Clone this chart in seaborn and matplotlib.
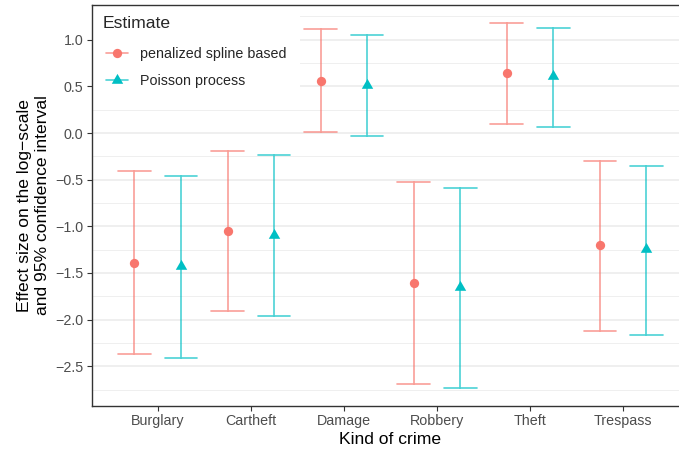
import numpy as np
import pandas as pd
import matplotlib
matplotlib.use("Agg")
import matplotlib.pyplot as plt
from matplotlib.lines import Line2D
from matplotlib.ticker import FixedLocator, MultipleLocator
from matplotlib.colors import to_rgb
import seaborn as sns

# Effect estimates (log scale) with 95% confidence limits per crime type
crimes = ["Burglary", "Cartheft", "Damage", "Robbery", "Theft", "Trespass"]
methods = ["penalized spline based", "Poisson process"]

spline_est = [-1.39, -1.05, 0.56, -1.61, 0.64, -1.20]
spline_lo = [-2.37, -1.91, 0.01, -2.69, 0.10, -2.12]
spline_hi = [-0.41, -0.19, 1.11, -0.53, 1.18, -0.30]

poisson_est = [-1.43, -1.09, 0.52, -1.65, 0.61, -1.24]
poisson_lo = [-2.41, -1.96, -0.03, -2.73, 0.07, -2.16]
poisson_hi = [-0.46, -0.24, 1.05, -0.59, 1.13, -0.35]

yticks = [-2.5, -2.0, -1.5, -1.0, -0.5, 0.0, 0.5, 1.0]
ytick_labels = ["\u22122.5", "\u22122.0", "\u22121.5", "\u22121.0", "\u22120.5", "0.0", "0.5", "1.0"]

colors = {"penalized spline based": "#F8766D", "Poisson process": "#00BFC4"}

# long table: lower limit, estimate and upper limit for each crime/method
rows = []
for m, est, lo, hi in [(methods[0], spline_est, spline_lo, spline_hi),
                       (methods[1], poisson_est, poisson_lo, poisson_hi)]:
    for c, e, l, h in zip(crimes, est, lo, hi):
        for v in (l, e, h):
            rows.append({"crime": c, "method": m, "value": v})
df = pd.DataFrame(rows)

sns.set_theme(style="ticks")
plt.rcParams["font.family"] = ["Liberation Sans", "DejaVu Sans"]

fig = plt.figure(figsize=(6.79, 4.53), dpi=100)
ax = fig.add_axes([0.135, 0.1038, 0.880, 0.8858])

sns.pointplot(
    data=df, x="crime", y="value", hue="method",
    order=crimes, hue_order=methods, palette=colors,
    estimator="median", errorbar=lambda v: (v.min(), v.max()),
    dodge=0.5, markers=["o", "^"], linestyle="none",
    capsize=0.35, err_kws={"linewidth": 1.2, "alpha": 0.7},
    legend=False, ax=ax,
)

tri = [(0, 1), (-0.866, -0.5), (0.866, -0.5)]
for ln in ax.lines:
    mk = ln.get_marker()
    if mk == "o":
        ln.set_markersize(6.7)
        ln.set_markeredgewidth(0)
        ln.set_zorder(3)
    elif mk == "^":
        ln.set_marker(tri)
        ln.set_markersize(9.5)
        ln.set_markeredgewidth(0)
        ln.set_zorder(3)

# limits with 5% padding on y, discrete padding on x
lo_all = min(spline_lo + poisson_lo)
hi_all = max(spline_hi + poisson_hi)
rng = hi_all - lo_all
ax.set_ylim(lo_all - 0.05 * rng, hi_all + 0.05 * rng)
ax.set_xlim(-0.71, len(crimes) - 1 + 0.71)

ax.yaxis.set_major_locator(FixedLocator(yticks))
ax.set_yticklabels(ytick_labels)
ax.yaxis.set_minor_locator(MultipleLocator(0.25))
ax.set_axisbelow(True)
ax.grid(which="major", axis="y", color="#EBEBEB", linewidth=1.1)
ax.grid(which="minor", axis="y", color="#EBEBEB", linewidth=0.55)
ax.grid(False, axis="x")

for side in ["left", "bottom", "top", "right"]:
    ax.spines[side].set_visible(True)
    ax.spines[side].set_color("#333333")
    ax.spines[side].set_linewidth(1.0)

ax.tick_params(axis="both", which="major", length=3.3, width=0.8, color="#333333",
               labelcolor="#4D4D4D", labelsize=10.3, pad=2.5, left=True, bottom=True)
ax.tick_params(which="minor", length=0)

ax.set_xlabel("Kind of crime", fontsize=12.6, color="black", labelpad=3)
ax.set_ylabel("Effect size on the log\u2212scale\nand 95% confidence interval",
              fontsize=12.6, color="black", linespacing=1.25, labelpad=4)

handles = []
for m in methods:
    r, g, b = to_rgb(colors[m])
    handles.append(Line2D([0], [0], color=(r, g, b, 0.7), lw=1.2,
                          marker="o" if m == methods[0] else tri,
                          markersize=6.7 if m == methods[0] else 9.5,
                          markerfacecolor=colors[m], markeredgewidth=0))
leg = ax.legend(handles, methods, title="Estimate", loc="upper left",
                bbox_to_anchor=(0, 1), borderaxespad=0, frameon=True,
                fancybox=False, facecolor="white", framealpha=1,
                fontsize=10.3, title_fontsize=12.6, alignment="left",
                handlelength=1.55, handletextpad=0.8, labelspacing=0.92,
                borderpad=0.8)
leg.get_frame().set_linewidth(0)
leg.set_zorder(2.2)
# indent the legend keys slightly relative to the title
leg._legend_handle_box.pad = 2.0

fig.savefig("out.png", dpi=100)
